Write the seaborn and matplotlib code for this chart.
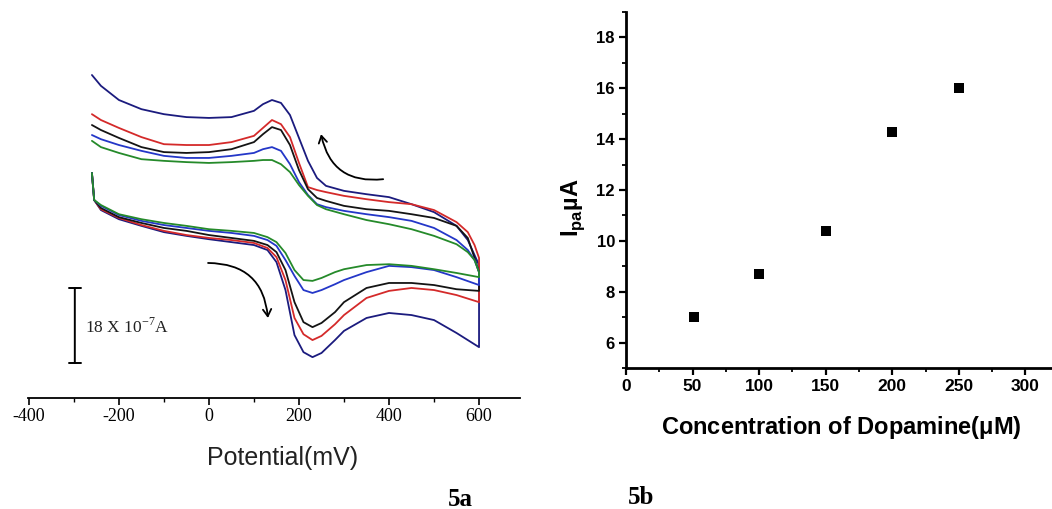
import numpy as np
import pandas as pd
import matplotlib
matplotlib.use("Agg")
import matplotlib.pyplot as plt
from matplotlib.ticker import MultipleLocator
import seaborn as sns

# ---------------- data: panel 5a (cyclic voltammograms, current in 10^-7 A, arbitrary offset)
potential_fwd = [-260, -255, -240, -200, -150, -100, -50, 0, 50, 100, 130, 150, 170,
                 190, 210, 230, 250, 280, 300, 350, 400, 450, 500, 550, 600]
potential_rev = [600, 590, 575, 550, 500, 450, 400, 350, 300, 260, 240, 220, 200,
                 180, 160, 140, 120, 100, 50, 0, -50, -100, -150, -200, -240, -260]

navy_fwd = [30.5, 24.0, 21.6, 19.4, 17.8, 16.3, 15.4, 14.6, 13.9, 13.2, 12.0, 9.1, 2.4,
            -8.4, -12.5, -13.7, -12.7, -9.6, -7.4, -4.3, -3.1, -3.6, -4.8, -7.9, -11.3]
navy_rev = [8.4, 10.8, 14.4, 17.8, 21.1, 23.0, 24.7, 25.4, 26.2, 27.4, 29.3, 33.4, 38.9,
            44.4, 47.3, 48.0, 47.0, 45.4, 43.9, 43.7, 43.9, 44.6, 45.8, 48.0, 51.4, 54.0]

red_fwd = [30.5, 24.0, 21.8, 19.7, 18.0, 16.6, 15.6, 14.9, 14.4, 13.7, 12.5, 10.3, 4.8,
           -4.3, -8.2, -9.6, -8.6, -5.8, -3.6, 0.5, 2.2, 2.9, 2.4, 1.2, -0.5]
red_rev = [10.1, 13.2, 16.3, 18.7, 21.6, 23.0, 23.5, 24.2, 25.0, 25.9, 26.4, 27.1, 32.9,
           39.1, 42.2, 43.2, 41.3, 39.4, 37.9, 37.2, 37.2, 37.4, 39.1, 41.3, 43.2, 44.6]

black_fwd = [30.5, 24.0, 22.1, 19.9, 18.5, 17.3, 16.6, 15.6, 14.9, 14.2, 13.2, 11.5, 7.2,
             -0.5, -5.3, -6.5, -5.5, -2.9, -0.5, 2.9, 4.1, 4.1, 3.6, 2.6, 2.2]
black_rev = [6.7, 10.1, 14.9, 17.8, 19.7, 20.6, 21.4, 21.8, 22.6, 23.8, 24.5, 26.6, 31.2,
             37.2, 40.8, 41.5, 39.8, 37.9, 36.2, 35.5, 35.3, 35.5, 36.7, 38.9, 40.8, 42.0]

blue_fwd = [30.5, 24.0, 22.6, 20.4, 19.0, 18.0, 17.3, 16.6, 16.1, 15.4, 14.4, 13.0, 9.6,
            5.8, 2.4, 1.7, 2.4, 3.8, 4.8, 6.7, 8.2, 7.9, 7.2, 5.5, 3.6]
blue_rev = [6.7, 9.6, 12.0, 14.4, 17.3, 19.0, 19.9, 20.6, 21.4, 22.3, 23.0, 25.2, 28.3,
            32.6, 35.8, 36.7, 36.2, 35.3, 34.6, 34.1, 34.1, 34.6, 35.8, 37.2, 38.6, 39.6]

green_fwd = [30.5, 24.0, 22.8, 20.6, 19.4, 18.5, 17.8, 17.0, 16.6, 16.1, 15.1, 13.9, 11.3,
             7.2, 4.8, 4.6, 5.3, 6.7, 7.4, 8.4, 8.6, 8.2, 7.4, 6.5, 5.5]
green_rev = [6.7, 9.6, 11.5, 13.4, 15.4, 17.0, 18.2, 19.2, 20.6, 21.8, 22.8, 25.0, 27.6,
             30.7, 32.6, 33.6, 33.6, 33.4, 33.1, 32.9, 33.1, 33.4, 33.8, 35.3, 36.7, 38.2]

curve_names = ["navy", "red", "black", "blue", "green"]
curve_colors = ["#1b1b7e", "#d42a2a", "#141414", "#2437c8", "#258a2a"]
scale_bar_value = 18          # 18 x 10^-7 A
scale_bar_bottom = -15.1

xticks_a = [-400, -200, 0, 200, 400, 600]

# ---------------- data: panel 5b
concentration = [51, 100, 150, 200, 250]
ipa = [7.0, 8.7, 10.4, 14.3, 16.0]
xticks_b = [0, 50, 100, 150, 200, 250, 300]
yticks_b = [6, 8, 10, 12, 14, 16, 18]

# ---------------- build long table for seaborn
fwd = {"navy": navy_fwd, "red": red_fwd, "black": black_fwd, "blue": blue_fwd, "green": green_fwd}
rev = {"navy": navy_rev, "red": red_rev, "black": black_rev, "blue": blue_rev, "green": green_rev}
rows = []
for name in curve_names:
    E = list(potential_fwd) + list(potential_rev)
    I = list(fwd[name]) + list(rev[name])
    for k, (e, i) in enumerate(zip(E, I)):
        rows.append({"curve": name, "step": k, "E": e, "I": i})
cv = pd.DataFrame(rows)
pts = pd.DataFrame({"conc": concentration, "ipa": ipa})

sns.set_style("white")
plt.rcParams["font.family"] = ["Liberation Sans", "DejaVu Sans"]
plt.rcParams["mathtext.fontset"] = "custom"
plt.rcParams["mathtext.rm"] = "Liberation Serif"
plt.rcParams["mathtext.sf"] = "Liberation Sans"
plt.rcParams["mathtext.bf"] = "Liberation Sans:bold"
plt.rcParams["text.color"] = "black"
plt.rcParams["axes.labelcolor"] = "black"
plt.rcParams["xtick.color"] = "black"
plt.rcParams["ytick.color"] = "black"

fig = plt.figure(figsize=(10.52, 5.09), dpi=100)
ax1 = fig.add_axes([28 / 1052, 111 / 509, 492 / 1052, 338 / 509])
ax2 = fig.add_axes([626 / 1052, 141 / 509, 426 / 1052, 356 / 509])

# ---------------- panel 5a
for name, col in zip(curve_names, curve_colors):
    sub = cv[cv["curve"] == name]
    sns.lineplot(data=sub, x="E", y="I", sort=False, estimator=None, color=col,
                 lw=1.3, ax=ax1, legend=False)
ax1.set_xlim(-402, 691)
ax1.set_ylim(-23.5, 57.6)
for s in ["top", "right", "left"]:
    ax1.spines[s].set_visible(False)
ax1.spines["bottom"].set_linewidth(1.3)
ax1.spines["bottom"].set_color("black")
ax1.set_yticks([])
ax1.set_ylabel("")
ax1.set_xticks(xticks_a)
ax1.set_xticklabels([str(v) for v in xticks_a], family="Liberation Serif", fontsize=13)
ax1.xaxis.set_minor_locator(MultipleLocator(100))
ax1.tick_params(axis="x", which="major", direction="out", length=5, width=1.2, pad=2,
                bottom=True, colors="black")
ax1.tick_params(axis="x", which="minor", direction="out", length=3, width=1.0, bottom=True)
ax1.set_xlabel("Potential(mV)", fontsize=18, color="#222222", family="Liberation Sans")
ax1.xaxis.set_label_coords(0.518, -0.178)
ax1.xaxis.label.set_verticalalignment("center")

# scale bar
ax1.annotate("", xy=(-298, scale_bar_bottom + scale_bar_value), xytext=(-298, scale_bar_bottom),
             arrowprops=dict(arrowstyle="|-|,widthA=0.45,widthB=0.45", color="black", lw=1.4,
                             shrinkA=0, shrinkB=0), annotation_clip=False)
ax1.text(-276, scale_bar_bottom + 8.6, r"18 X 10$^{\mathrm{-7}}$A", family="Liberation Serif",
         fontsize=12.5, va="center", ha="left", color="#222222")

# scan direction arrows
ax1.annotate("", xy=(249, 39.8), xytext=(387, 29.0),
             arrowprops=dict(arrowstyle="->,head_length=0.5,head_width=0.3", color="black",
                             lw=1.3, shrinkA=0, shrinkB=0, connectionstyle="arc3,rad=-0.45"))
ax1.annotate("", xy=(131, -4.3), xytext=(-2, 8.9),
             arrowprops=dict(arrowstyle="->,head_length=0.5,head_width=0.3", color="black",
                             lw=1.3, shrinkA=0, shrinkB=0, connectionstyle="arc3,rad=-0.45"))

# ---------------- panel 5b
sns.scatterplot(data=pts, x="conc", y="ipa", marker="s", s=55, color="black",
                edgecolor="black", linewidth=0, ax=ax2, legend=False)
ax2.set_xlim(0, 320)
ax2.set_ylim(5, 19)
for s in ["top", "right"]:
    ax2.spines[s].set_visible(False)
for s in ["left", "bottom"]:
    ax2.spines[s].set_linewidth(2.0)
    ax2.spines[s].set_color("black")
ax2.set_xticks(xticks_b)
ax2.set_yticks(yticks_b)
ax2.set_xticklabels([str(v) for v in xticks_b], fontsize=12.5, fontweight="bold")
ax2.set_yticklabels([str(v) for v in yticks_b], fontsize=12, fontweight="bold")
ax2.xaxis.set_minor_locator(MultipleLocator(25))
ax2.yaxis.set_minor_locator(MultipleLocator(1))
ax2.tick_params(which="major", direction="out", length=5, width=1.6, pad=3,
                bottom=True, left=True, colors="black")
ax2.tick_params(which="minor", direction="out", length=3, width=1.3, bottom=True, left=True)
ax2.set_xlabel(r"Concentration of Dopamine($\mathbf{\mu}$M)", fontsize=17, fontweight="bold",
               color="black")
ax2.xaxis.set_label_coords(0.505, -0.166)
ax2.xaxis.label.set_verticalalignment("center")
ax2.set_ylabel(r"I$_{\mathbf{pa}}$µA", fontsize=17, fontweight="bold", color="black")
ax2.yaxis.set_label_coords(-0.124, 0.452)
ax2.yaxis.label.set_verticalalignment("center")
ax2.yaxis.label.set_horizontalalignment("center")

# panel captions
fig.text(460 / 1052, 1 - 499 / 509, "5a", ha="center", va="center", fontsize=18,
         fontweight="bold", family="Liberation Serif", color="black")
fig.text(641 / 1052, 1 - 498 / 509, "5b", ha="center", va="center", fontsize=18,
         fontweight="bold", family="Liberation Serif", color="black")

fig.savefig("out.png", dpi=100, facecolor="white")
